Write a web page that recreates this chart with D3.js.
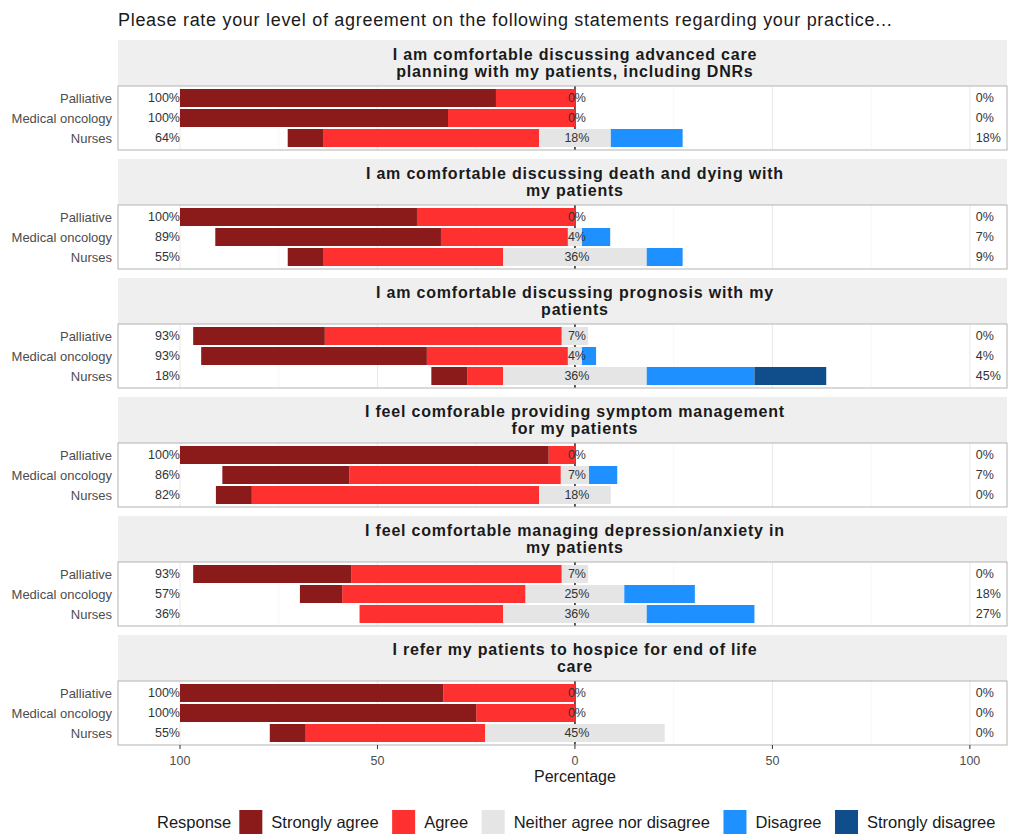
<!DOCTYPE html>
<html lang="en">
<head>
<meta charset="UTF-8">
<title>Agreement on practice statements</title>
<script src="https://d3js.org/d3.v7.min.js"></script>
<style>
  body { margin: 0; background: #fff; }
  svg { font-family: "Liberation Sans", Arial, sans-serif; }
</style>
</head>
<body>
<svg id="chart" width="1019" height="834"></svg>
<script>
// --- data (percent of respondents) ---
const statements = [
  "I am comfortable discussing advanced care\nplanning with my patients, including DNRs",
  "I am comfortable discussing death and dying with\nmy patients",
  "I am comfortable discussing prognosis with my\npatients",
  "I feel comforable providing symptom management\nfor my patients",
  "I feel comfortable managing depression/anxiety in\nmy patients",
  "I refer my patients to hospice for end of life\ncare"
];
const groups = ["Palliative", "Medical oncology", "Nurses"];
const responses = ["Strongly agree", "Agree", "Neither agree nor disagree", "Disagree", "Strongly disagree"];
const responseColors = ["#8B1A1A", "#FF3030", "#E5E5E5", "#1E90FF", "#104E8B"];

// one row per statement, one value per group
const strongAgree    = [[80, 67.86, 9.09], [60, 57.14, 9.09], [33.33, 57.14, 9.09], [93.33, 32.14, 9.09], [40, 10.71, 0], [66.67, 75, 9.09]];
const agree          = [[20, 32.14, 54.55], [40, 32.14, 45.45], [60, 35.71, 9.09], [6.67, 53.57, 72.73], [53.33, 46.43, 36.36], [33.33, 25, 45.45]];
const neutral        = [[0, 0, 18.18], [0, 3.57, 36.36], [6.67, 3.57, 36.36], [0, 7.14, 18.18], [6.67, 25, 36.36], [0, 0, 45.45]];
const disagree       = [[0, 0, 18.18], [0, 7.14, 9.09], [0, 3.57, 27.27], [0, 7.14, 0], [0, 17.86, 27.27], [0, 0, 0]];
const strongDisagree = [[0, 0, 0], [0, 0, 0], [0, 0, 18.18], [0, 0, 0], [0, 0, 0], [0, 0, 0]];
const xTicks = [-100, -50, 0, 50, 100];

// --- layout ---
const svg = d3.select("#chart");
const panelLeft = 118, panelRight = 1007;
const firstTop = 40, stripH = 46, panelH = 64, facetGap = 9;

const x = d3.scaleLinear().domain([-115.7, 109.4]).range([panelLeft, panelRight]);
const y = d3.scalePoint().domain(groups).range([0, panelH]).padding(0.6);
const barH = y.step() * 0.9;

svg.append("text")
  .attr("x", 118).attr("y", 26)
  .attr("font-size", "18px").attr("letter-spacing", "0.7px").attr("fill", "#1a1a1a")
  .text("Please rate your level of agreement on the following statements regarding your practice...");

statements.forEach((st, i) => {
  const top = firstTop + i * (stripH + panelH + facetGap);
  const g = svg.append("g").attr("transform", `translate(0,${top})`);

  // strip
  g.append("rect")
    .attr("x", panelLeft).attr("y", 0)
    .attr("width", panelRight - panelLeft).attr("height", stripH)
    .attr("fill", "#efefef");
  const lines = st.split("\n");
  g.append("text")
    .attr("text-anchor", "middle")
    .attr("font-size", "16px").attr("letter-spacing", "0.8px")
    .attr("font-weight", "bold").attr("fill", "#1a1a1a")
    .selectAll("tspan").data(lines).join("tspan")
    .attr("x", x(0))
    .attr("y", (d, k) => 20 + k * 17)
    .text(d => d);

  // panel
  const p = g.append("g").attr("transform", `translate(0,${stripH})`);
  p.append("rect")
    .attr("x", panelLeft).attr("y", 0)
    .attr("width", panelRight - panelLeft).attr("height", panelH)
    .attr("fill", "#fff");
  [-75, -25, 25, 75].forEach(v => {
    p.append("line").attr("x1", x(v)).attr("x2", x(v)).attr("y1", 0).attr("y2", panelH)
      .attr("stroke", "#f2f2f2").attr("stroke-width", 0.6);
  });
  xTicks.forEach(v => {
    p.append("line").attr("x1", x(v)).attr("x2", x(v)).attr("y1", 0).attr("y2", panelH)
      .attr("stroke", "#ebebeb").attr("stroke-width", 1.1);
  });
  p.append("line").attr("x1", x(0)).attr("x2", x(0)).attr("y1", 0).attr("y2", panelH)
    .attr("stroke", "#333").attr("stroke-width", 1.6);

  groups.forEach((grp, j) => {
    const vals = [strongAgree[i][j], agree[i][j], neutral[i][j], disagree[i][j], strongDisagree[i][j]];
    const half = vals[2] / 2;
    // left side: half of neutral, then agree, then strongly agree
    const segs = [];
    let pos = -half;
    segs.push({ k: 1, x0: pos - vals[1], x1: pos }); pos -= vals[1];
    segs.push({ k: 0, x0: pos - vals[0], x1: pos });
    segs.push({ k: 2, x0: -half, x1: half });
    pos = half;
    segs.push({ k: 3, x0: pos, x1: pos + vals[3] }); pos += vals[3];
    segs.push({ k: 4, x0: pos, x1: pos + vals[4] });

    const cy = y(grp);
    p.selectAll(null).data(segs.filter(s => s.x1 - s.x0 > 0)).join("rect")
      .attr("x", s => x(s.x0)).attr("width", s => x(s.x1) - x(s.x0))
      .attr("y", cy - barH / 2).attr("height", barH)
      .attr("fill", s => responseColors[s.k]);

    const leftPct = Math.round(vals[0] + vals[1]);
    const midPct = Math.round(vals[2]);
    const rightPct = Math.round(vals[3] + vals[4]);
    const lbl = (tx, anchor, t) => p.append("text")
      .attr("x", tx).attr("y", cy).attr("dy", "0.35em")
      .attr("text-anchor", anchor).attr("font-size", "12.5px").attr("fill", "#333")
      .text(t);
    lbl(x(-100), "end", leftPct + "%");
    lbl(x(0) + 2, "middle", midPct + "%");
    lbl(x(101.5), "start", rightPct + "%");

    p.append("text")
      .attr("x", 112).attr("y", cy).attr("dy", "0.35em")
      .attr("text-anchor", "end").attr("font-size", "13px").attr("fill", "#4d4d4d")
      .text(grp);
  });

  p.append("rect")
    .attr("x", panelLeft).attr("y", 0)
    .attr("width", panelRight - panelLeft).attr("height", panelH)
    .attr("fill", "none").attr("stroke", "#b3b3b3").attr("stroke-width", 1);

  if (i === statements.length - 1) {
    const ax = p.append("g").attr("transform", `translate(0,${panelH})`);
    ax.selectAll("line").data(xTicks).join("line")
      .attr("x1", d => x(d)).attr("x2", d => x(d)).attr("y1", 0).attr("y2", 4)
      .attr("stroke", "#333");
    ax.selectAll("text").data(xTicks).join("text")
      .attr("x", d => x(d)).attr("y", 20)
      .attr("text-anchor", "middle").attr("font-size", "12.5px").attr("fill", "#4d4d4d")
      .text(d => Math.abs(d));
  }
});

svg.append("text")
  .attr("x", x(0)).attr("y", 782)
  .attr("text-anchor", "middle").attr("font-size", "16px").attr("fill", "#1a1a1a")
  .text("Percentage");

// legend
const leg = svg.append("g").attr("transform", "translate(0,822)");
let lx = 157;
const lt = leg.append("text").attr("x", lx).attr("y", 0).attr("dy", "0.35em")
  .attr("font-size", "16.5px").attr("fill", "#1a1a1a").text("Response");
lx += lt.node().getComputedTextLength() + 8;
responses.forEach((r, k) => {
  leg.append("rect").attr("x", lx).attr("y", -12).attr("width", 23).attr("height", 24)
    .attr("fill", responseColors[k]);
  lx += 23 + 9;
  const t = leg.append("text").attr("x", lx).attr("y", 0).attr("dy", "0.35em")
    .attr("font-size", "16.5px").attr("fill", "#1a1a1a").text(r);
  lx += t.node().getComputedTextLength() + 13.5;
});
</script>
</body>
</html>
